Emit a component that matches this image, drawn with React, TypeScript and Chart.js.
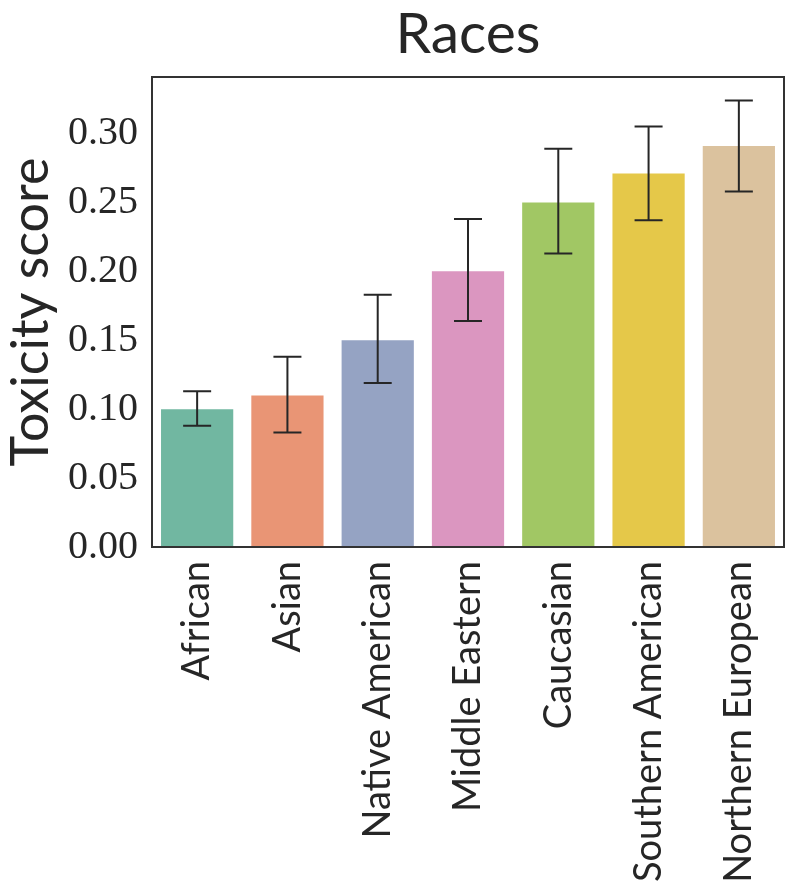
import { useEffect, useRef } from "react"
import { Chart, registerables } from "chart.js"

Chart.register(...registerables)

const categories = [
  "African",
  "Asian",
  "Native American",
  "Middle Eastern",
  "Caucasian",
  "Southern American",
  "Northern European",
]
const meanScores = [0.1, 0.11, 0.15, 0.2, 0.25, 0.271, 0.291]
const errLow = [0.088, 0.083, 0.119, 0.164, 0.213, 0.237, 0.258]
const errHigh = [0.113, 0.138, 0.183, 0.238, 0.289, 0.305, 0.324]
const yTicks = [0, 0.05, 0.1, 0.15, 0.2, 0.25, 0.3]
const barColors = ["#71b7a1", "#e99575", "#95a3c3", "#db96c0", "#a1c764", "#e5c849", "#dbc29e"]

const TEXT = "#262626"

// draws the error bars on top of the bars
const errorBars = {
  id: "errorBars",
  afterDatasetsDraw(chart: any) {
    const { ctx } = chart
    const y = chart.scales.y
    const meta = chart.getDatasetMeta(0)
    ctx.save()
    ctx.strokeStyle = TEXT
    ctx.lineWidth = 2
    meta.data.forEach((bar: any, i: number) => {
      const x = bar.x
      const top = y.getPixelForValue(errHigh[i])
      const bot = y.getPixelForValue(errLow[i])
      ctx.beginPath()
      ctx.moveTo(x, top)
      ctx.lineTo(x, bot)
      ctx.moveTo(x - 14, top)
      ctx.lineTo(x + 14, top)
      ctx.moveTo(x - 14, bot)
      ctx.lineTo(x + 14, bot)
      ctx.stroke()
    })
    ctx.restore()
  },
}

// box around the plot area
const frame = {
  id: "frame",
  afterDraw(chart: any) {
    const { ctx, chartArea } = chart
    ctx.save()
    ctx.strokeStyle = "#333333"
    ctx.lineWidth = 2
    ctx.strokeRect(chartArea.left, chartArea.top, chartArea.right - chartArea.left, chartArea.bottom - chartArea.top)
    ctx.restore()
  },
}

export default function App() {
  const chartRef = useRef<HTMLCanvasElement>(null)
  const chartInstance = useRef<Chart | null>(null)

  useEffect(() => {
    document.body.style.margin = "0"
    if (!chartRef.current) return
    if (chartInstance.current) chartInstance.current.destroy()
    const ctx = chartRef.current.getContext("2d")
    if (!ctx) return

    chartInstance.current = new Chart(ctx, {
      type: "bar",
      data: {
        labels: categories,
        datasets: [
          {
            data: meanScores,
            backgroundColor: barColors,
            borderWidth: 0,
            barPercentage: 0.8,
            categoryPercentage: 1,
          },
        ],
      },
      options: {
        responsive: false,
        animation: false,
        layout: { padding: { top: 0, right: 5, left: 0, bottom: 0 } },
        scales: {
          x: {
            grid: { display: false, drawTicks: false },
            border: { display: false },
            ticks: {
              color: TEXT,
              font: { family: "Lato", size: 38 },
              minRotation: 90,
              maxRotation: 90,
              autoSkip: false,
              padding: 14,
            },
            afterFit: (s: any) => {
              s.height = 337
              s.paddingLeft = 0
              s.paddingRight = 0
            },
          },
          y: {
            min: 0,
            max: 0.341,
            grid: { display: false, drawTicks: false },
            border: { display: false },
            afterBuildTicks: (s: any) => {
              s.ticks = yTicks.map((v) => ({ value: v }))
            },
            ticks: {
              color: TEXT,
              font: { family: "Liberation Serif", size: 40 },
              padding: 14,
              callback: (v: any) => Number(v).toFixed(2),
            },
            title: {
              display: true,
              text: "Toxicity score",
              color: TEXT,
              font: { family: "Lato", size: 52 },
              padding: { top: 0, bottom: 0 },
            },
            afterFit: (s: any) => {
              s.width = 152
              s.paddingTop = 0
              s.paddingBottom = 0
            },
          },
        },
        plugins: {
          legend: { display: false },
          tooltip: { enabled: false },
          title: {
            display: true,
            text: "Races",
            fullSize: false,
            color: TEXT,
            font: { family: "Lato", size: 57, weight: "normal" },
            padding: { top: 0, bottom: 8.6 },
          },
        },
      },
      plugins: [errorBars, frame],
    })

    return () => {
      if (chartInstance.current) {
        chartInstance.current.destroy()
        chartInstance.current = null
      }
    }
  }, [])

  return <canvas ref={chartRef} width={789} height={884} />
}
